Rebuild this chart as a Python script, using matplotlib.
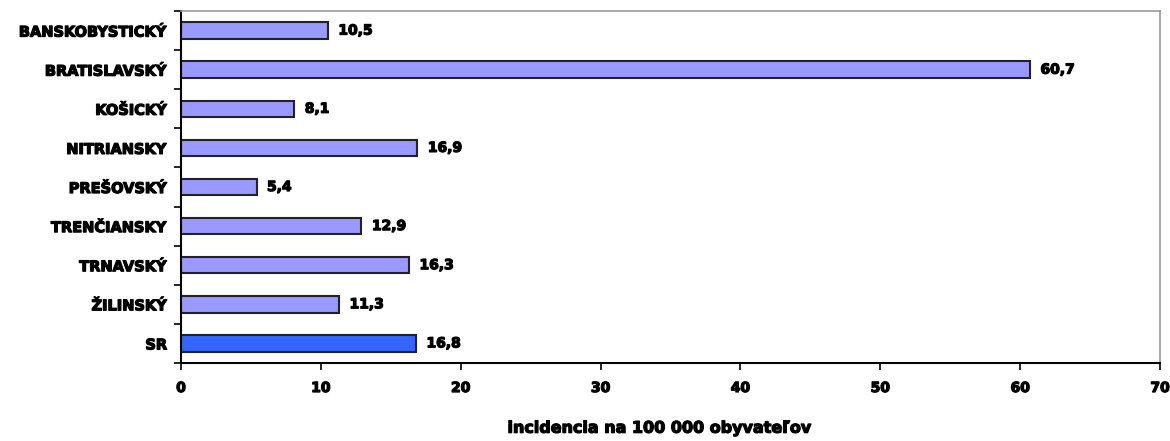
import matplotlib
matplotlib.use("Agg")
import matplotlib.pyplot as plt
import matplotlib.patheffects as pe
import numpy as np

regions = ["BANSKOBYSTICKÝ", "BRATISLAVSKÝ", "KOŠICKÝ", "NITRIANSKY", "PREŠOVSKÝ",
           "TRENČIANSKY", "TRNAVSKÝ", "ŽILINSKÝ", "SR"]
incidence = [10.5, 60.7, 8.1, 16.9, 5.4, 12.9, 16.3, 11.3, 16.8]
bar_colors = ["#9999FF"] * 8 + ["#3366FF"]
x_ticks = [0, 10, 20, 30, 40, 50, 60, 70]

plt.rcParams["font.family"] = ["DejaVu Sans"]
plt.rcParams["font.weight"] = "bold"

# heavier look for all text
heavy = [pe.withStroke(linewidth=0.9, foreground="black")]

fig = plt.figure(figsize=(11.7, 4.41), dpi=100)
ax = fig.add_axes([0.1547, 0.177, 0.8368, 0.798])

y = np.arange(len(regions))
ax.barh(y, incidence, height=0.42, color=bar_colors, edgecolor="#222222", linewidth=1.5)
ax.set_ylim(len(regions) - 0.5, -0.5)
ax.set_xlim(0, 70)

for yi, v in zip(y, incidence):
    ax.text(v + 0.75, yi, f"{v:.1f}".replace(".", ","), va="center", ha="left",
            fontsize=10, fontweight="bold", path_effects=heavy)

ax.set_yticks(y)
ax.set_yticklabels(regions, fontsize=10.5, fontweight="bold")
ax.set_yticks(np.arange(len(regions) + 1) - 0.5, minor=True)
ax.tick_params(axis="y", which="major", length=0, pad=10)
ax.tick_params(axis="y", which="minor", length=5, width=1.2, direction="out")

ax.set_xticks(x_ticks)
ax.set_xticklabels([str(t) for t in x_ticks], fontsize=10, fontweight="bold")
ax.tick_params(axis="x", length=5, width=1.2, direction="out", pad=8)

for lab in ax.get_xticklabels() + ax.get_yticklabels():
    lab.set_path_effects(heavy)

ax.spines["left"].set_linewidth(1.5)
ax.spines["bottom"].set_linewidth(1.5)
for s in ("top", "right"):
    ax.spines[s].set_color("#999999")
    ax.spines[s].set_linewidth(1.2)

fig.text(0.564, 0.012, "incidencia na 100 000 obyvateľov", ha="center", va="bottom",
         fontsize=11.5, fontweight="bold", path_effects=heavy)

fig.savefig("out.png", dpi=100)
